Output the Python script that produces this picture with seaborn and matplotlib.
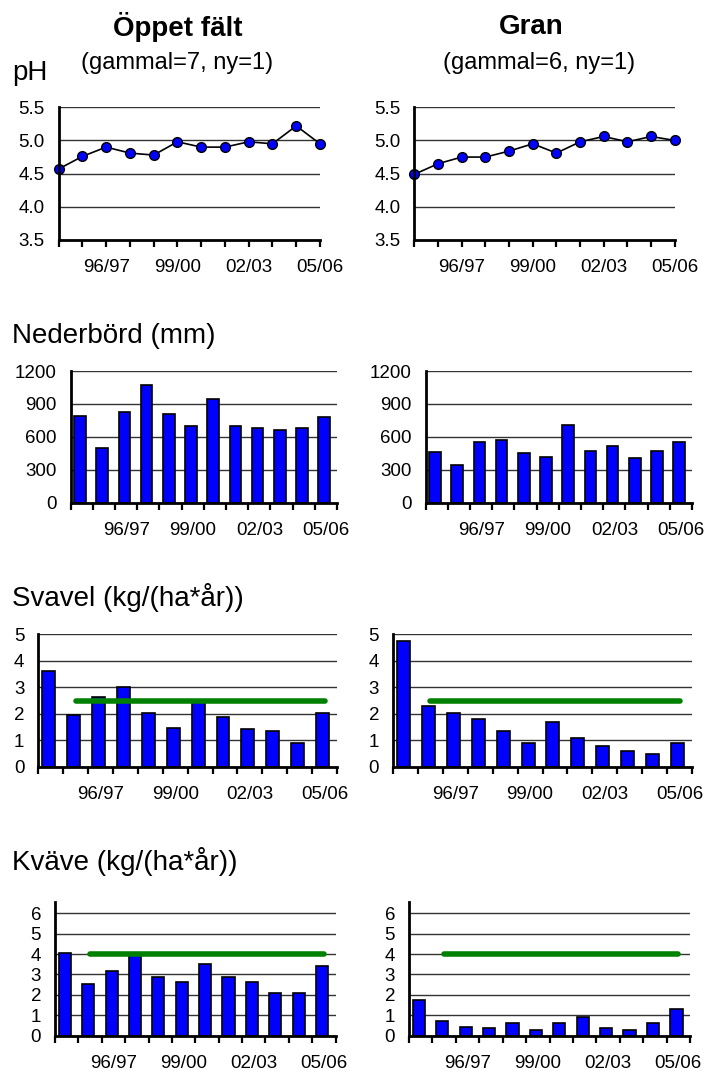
import numpy as np
import pandas as pd
import matplotlib
matplotlib.use("Agg")
import matplotlib.pyplot as plt
import seaborn as sns

# ---- data ----
years = ['94/95', '95/96', '96/97', '97/98', '98/99', '99/00',
         '00/01', '01/02', '02/03', '03/04', '04/05', '05/06']
shown_years = ['96/97', '99/00', '02/03', '05/06']

ph_oppet = [4.57, 4.76, 4.90, 4.81, 4.78, 4.98, 4.90, 4.90, 4.98, 4.95, 5.22, 4.95]
ph_gran = [4.49, 4.65, 4.75, 4.75, 4.84, 4.95, 4.81, 4.98, 5.06, 4.98, 5.06, 5.00]

neder_oppet = [790, 500, 830, 1070, 810, 700, 945, 700, 680, 660, 680, 780]
neder_gran = [465, 340, 550, 570, 455, 420, 710, 470, 520, 405, 470, 550]

svavel_oppet = [3.6, 1.95, 2.65, 3.0, 2.02, 1.47, 2.45, 1.88, 1.42, 1.35, 0.88, 2.03]
svavel_gran = [4.75, 2.3, 2.02, 1.8, 1.35, 0.88, 1.7, 1.07, 0.8, 0.6, 0.47, 0.88]
svavel_limit = 2.5

kvave_oppet = [4.05, 2.55, 3.15, 3.95, 2.9, 2.65, 3.5, 2.9, 2.65, 2.1, 2.1, 3.4]
kvave_gran = [1.75, 0.72, 0.44, 0.36, 0.62, 0.28, 0.62, 0.9, 0.36, 0.28, 0.62, 1.33]
kvave_limit = 4.0

titles = ['Öppet fält', 'Gran']
subtitles = ['(gammal=7, ny=1)', '(gammal=6, ny=1)']

# ---- style ----
sns.set_theme(style="white")
plt.rcParams['font.family'] = ['Liberation Sans', 'DejaVu Sans']
plt.rcParams['text.color'] = 'black'
plt.rcParams['xtick.color'] = 'black'
plt.rcParams['ytick.color'] = 'black'

W, H = 704, 1073
fig = plt.figure(figsize=(W / 100, H / 100), dpi=100)

BLUE = '#0000FF'
GREEN = '#008000'
TICK_FS = 13.5
SECTION_FS = 20


def add_axes_px(x0, x1, y_top, y_bot):
    return fig.add_axes([x0 / W, 1 - y_bot / H, (x1 - x0) / W, (y_bot - y_top) / H])


def style_axes(ax, yticks, ylim):
    ax.set_ylim(*ylim)
    ax.set_yticks(yticks)
    ax.yaxis.grid(True, color='#333333', lw=1.0)
    ax.xaxis.grid(False)
    ax.set_axisbelow(True)
    for s in ['top', 'right']:
        ax.spines[s].set_visible(False)
    for s in ['left', 'bottom']:
        ax.spines[s].set_color('black')
        ax.spines[s].set_linewidth(2.0)
    ax.tick_params(axis='y', length=0, pad=10, labelsize=TICK_FS, labelcolor='black')
    ax.tick_params(axis='x', which='major', length=5, width=1.6, direction='out',
                   color='black', bottom=True)
    ax.tick_params(axis='x', which='minor', length=0, pad=14, labelsize=TICK_FS,
                   labelcolor='black', bottom=True)
    ax.xaxis.remove_overlapping_locs = False
    ax.set_xlabel('')
    ax.set_ylabel('')


def label_years(ax):
    idx = [years.index(y) for y in shown_years]
    ax.set_xticks(idx, minor=True)
    ax.set_xticklabels(shown_years, minor=True)


def ph_panel(ax, values):
    df = pd.DataFrame({'pos': np.arange(len(years)), 'ph': values})
    sns.lineplot(data=df, x='pos', y='ph', ax=ax, color='black', lw=1.2,
                 marker='o', markersize=7, markerfacecolor=BLUE,
                 markeredgecolor='black', markeredgewidth=1.0)
    for ln in ax.lines:
        ln.set_clip_on(False)
    ax.set_xlim(0, len(years) - 1)
    style_axes(ax, [3.5, 4.0, 4.5, 5.0, 5.5], (3.5, 5.5))
    ax.yaxis.set_major_formatter(matplotlib.ticker.FormatStrFormatter('%.1f'))
    ax.set_xticks(np.arange(len(years)))
    ax.set_xticklabels([])
    label_years(ax)


def bar_panel(ax, values, yticks, ylim, limit=None):
    df = pd.DataFrame({'year': years, 'v': values})
    sns.barplot(data=df, x='year', y='v', ax=ax, color=BLUE, saturation=1,
                edgecolor='black', linewidth=1.2, width=0.52)
    for p in ax.patches:
        p.set_x(p.get_x() - 0.08)
    if limit is not None:
        ax.plot([1, len(years) - 1], [limit, limit], color=GREEN, lw=4,
                solid_capstyle='round', zorder=5)
    ax.set_xlim(-0.5, len(years) - 0.5)
    style_axes(ax, yticks, ylim)
    ax.set_xticks(np.arange(-0.5, len(years), 1))
    ax.set_xticklabels([])
    label_years(ax)


# pH
ph_panel(add_axes_px(58.6, 320, 107.3, 240), ph_oppet)
ph_panel(add_axes_px(414.4, 674.8, 107.3, 240), ph_gran)

# Nederbörd
bar_panel(add_axes_px(70.7, 337, 371, 502.7), neder_oppet,
          [0, 300, 600, 900, 1200], (0, 1200))
bar_panel(add_axes_px(425.7, 692, 371, 502.7), neder_gran,
          [0, 300, 600, 900, 1200], (0, 1200))

# Svavel
bar_panel(add_axes_px(38.3, 337, 634.3, 766.7), svavel_oppet,
          [0, 1, 2, 3, 4, 5], (0, 5), svavel_limit)
bar_panel(add_axes_px(393, 692, 634.3, 766.7), svavel_gran,
          [0, 1, 2, 3, 4, 5], (0, 5), svavel_limit)

# Kväve
bar_panel(add_axes_px(55, 335.6, 902, 1035.7), kvave_oppet,
          [0, 1, 2, 3, 4, 5, 6], (0, 6.55), kvave_limit)
bar_panel(add_axes_px(409, 690, 902, 1035.7), kvave_gran,
          [0, 1, 2, 3, 4, 5, 6], (0, 6.55), kvave_limit)

# headings
fig.text(178 / W, 1 - 27 / H, titles[0], ha='center', va='center',
         fontsize=20, fontweight='bold', color='black')
fig.text(531 / W, 1 - 27 / H, titles[1], ha='center', va='center',
         fontsize=20, fontweight='bold', color='black')
fig.text(177 / W, 1 - 63 / H, subtitles[0], ha='center', va='center',
         fontsize=17, color='black')
fig.text(539 / W, 1 - 63 / H, subtitles[1], ha='center', va='center',
         fontsize=17, color='black')

fig.text(12 / W, 1 - 73 / H, 'pH', ha='left', va='center',
         fontsize=SECTION_FS, color='black')
fig.text(12 / W, 1 - 336 / H, 'Nederbörd (mm)', ha='left', va='center',
         fontsize=SECTION_FS, color='black')
fig.text(12 / W, 1 - 597 / H, 'Svavel (kg/(ha*år))', ha='left', va='center',
         fontsize=SECTION_FS, color='black')
fig.text(12 / W, 1 - 862 / H, 'Kväve (kg/(ha*år))', ha='left', va='center',
         fontsize=SECTION_FS, color='black')

fig.savefig('out.png', dpi=100)
